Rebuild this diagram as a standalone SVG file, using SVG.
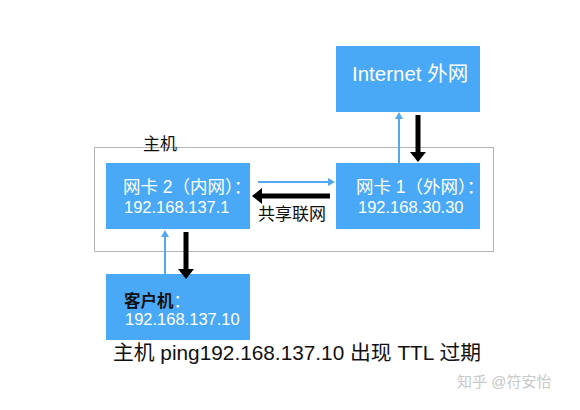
<svg xmlns="http://www.w3.org/2000/svg" width="580" height="410" viewBox="0 0 580 410">
<style>
text{font-family:"Liberation Sans","Noto Sans CJK SC",sans-serif}
.box{fill:#4aa9f6}
.wt{fill:#ffffff;font-size:16.5px}
.wc{fill:#ffffff;font-size:17.5px}
.blk{fill:#111111}
.blue{stroke:#55a8ee;stroke-width:2;fill:none}
.black{stroke:#000000;stroke-width:5;fill:none}
</style>
<defs>
<marker id="hb" viewBox="0 0 7 8" refX="0" refY="4" markerWidth="7" markerHeight="8" markerUnits="userSpaceOnUse" orient="auto">
<path d="M0,0 L7,4 L0,8 z" fill="#55a8ee"/>
</marker>
<marker id="hk" viewBox="0 0 10 16" refX="0" refY="8" markerWidth="10" markerHeight="16" markerUnits="userSpaceOnUse" orient="auto">
<path d="M0,0 L10,8 L0,16 z" fill="#000000"/>
</marker>
</defs>
<rect width="580" height="410" fill="#ffffff"/>
<g id="host">
<rect x="94.5" y="147.5" width="399" height="104" fill="none" stroke="#b4b4b4" stroke-width="1"/>
<text x="143" y="150" font-size="17" class="blk">主机</text>
</g>
<g id="internet">
<rect class="box" x="336" y="46" width="144" height="66"/>
<text x="352" y="81" font-size="20.5" fill="#ffffff">Internet 外网</text>
</g>
<g id="nic2">
<rect class="box" x="106" y="163" width="144" height="66"/>
<text class="wc" x="123" y="193">网卡 2（内网）：</text>
<text class="wt" x="124" y="213">192.168.137.1</text>
</g>
<g id="nic1">
<rect class="box" x="336" y="163" width="144" height="66"/>
<text class="wc" x="356" y="193">网卡 1（外网）：</text>
<text class="wt" x="358" y="213">192.168.30.30</text>
</g>
<g id="client">
<rect class="box" x="106" y="274" width="144" height="66"/>
<text x="124" y="307" font-size="16.5"><tspan font-weight="bold" fill="#111111">客户机</tspan><tspan fill="#ffffff">：</tspan></text>
<text class="wt" x="125" y="325">192.168.137.10</text>
</g>
<g id="connectors">
<line class="blue" x1="399" y1="163" x2="399" y2="119" marker-end="url(#hb)"/>
<line class="black" x1="418" y1="115" x2="418" y2="152" marker-end="url(#hk)"/>
<line class="blue" x1="258" y1="182" x2="328" y2="182" marker-end="url(#hb)"/>
<line class="black" x1="330" y1="196" x2="262" y2="196" marker-end="url(#hk)"/>
<line class="blue" x1="165" y1="274" x2="165" y2="237" marker-end="url(#hb)"/>
<line class="black" x1="186" y1="232" x2="186" y2="269" marker-end="url(#hk)"/>
<text x="258" y="220" font-size="17" class="blk">共享联网</text>
</g>
<text x="113" y="360" font-size="20.8" class="blk">主机 ping192.168.137.10 出现 TTL 过期</text>
<text x="457" y="387" font-size="15" fill="#c8c8c8">知乎 @符安怡</text>
</svg>
